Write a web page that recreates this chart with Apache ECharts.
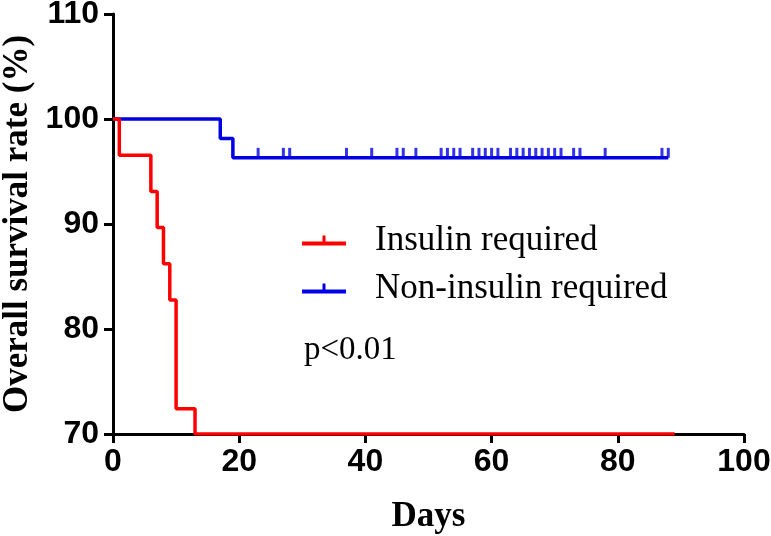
<!DOCTYPE html>
<html>
<head>
<meta charset="utf-8">
<script src="https://cdn.jsdelivr.net/npm/echarts@6/dist/echarts.min.js"></script>
<style>
  html, body { margin: 0; padding: 0; background: #fff; }
  #chart { width: 771px; height: 536px; }
</style>
</head>
<body>
<div id="chart"></div>
<script>
// Kaplan-Meier steps
const insulinDays = [0, 1, 6, 7, 8, 9, 10, 13, 89];
const insulinSurvival = [100, 96.55, 93.10, 89.66, 86.21, 82.76, 72.41, 70, 70];
const nonInsulinDays = [0, 17, 19, 88];
const nonInsulinSurvival = [100, 98.15, 96.30, 96.30];
// censored patients (non-insulin group), all at the 96.3 level
const censorDays = [23, 27, 28, 37, 41, 45, 46, 48, 52, 53, 54, 55, 57, 58, 59, 60, 61,
    63, 64, 65, 66, 67, 68, 69, 70, 71, 73, 74, 78, 87, 88];
const censorLevel = 96.30;

const RED = '#ff0000';
const BLUE = '#0000e6';
const legendIcon = 'path://M0,6h44v4H0z M20.5,0h3v6h-3z';

const chart = echarts.init(document.getElementById('chart'));

const pairs = (xs, ys) => xs.map((x, i) => [x, ys[i]]);

chart.setOption({
    animation: false,
    grid: { left: 113, right: 27, top: 14, bottom: 102, outerBoundsMode: 'none' },
    title: {
        text: 'p<0.01',
        left: 304, top: 334, padding: 0,
        textStyle: { fontFamily: 'Liberation Serif', fontWeight: 'normal', fontSize: 33, color: '#000' }
    },
    legend: {
        orient: 'vertical',
        left: 302, top: 223,
        padding: 0,
        itemGap: 13,
        itemWidth: 44, itemHeight: 10,
        textStyle: {
            fontFamily: 'Liberation Serif', fontSize: 35, color: '#000',
            padding: [0, 0, 0, 24]
        },
        data: [
            { name: 'Insulin required', icon: legendIcon, itemStyle: { color: RED } },
            { name: 'Non-insulin required', icon: legendIcon, itemStyle: { color: BLUE } }
        ]
    },
    xAxis: {
        type: 'value',
        min: 0, max: 100, interval: 20,
        name: 'Days',
        nameLocation: 'middle',
        nameGap: 65,
        nameMoveOverlap: false,
        nameTextStyle: { fontFamily: 'Liberation Serif', fontWeight: 'bold', fontSize: 35, color: '#000' },
        axisLine: { lineStyle: { color: '#000', width: 3 } },
        axisTick: { length: 9, lineStyle: { color: '#000', width: 3 } },
        axisLabel: { margin: 12, fontFamily: 'Liberation Sans', fontWeight: 'bold', fontSize: 32, color: '#000' },
        splitLine: { show: false }
    },
    yAxis: {
        type: 'value',
        min: 70, max: 110, interval: 10,
        name: 'Overall survival rate (%)',
        nameLocation: 'middle',
        nameGap: 78,
        nameMoveOverlap: false,
        nameTextStyle: { fontFamily: 'Liberation Serif', fontWeight: 'bold', fontSize: 35, color: '#000' },
        axisLine: { show: true, lineStyle: { color: '#000', width: 3 } },
        axisTick: { show: true, length: 9, lineStyle: { color: '#000', width: 3 } },
        axisLabel: { margin: 14, fontFamily: 'Liberation Sans', fontWeight: 'bold', fontSize: 32, color: '#000' },
        splitLine: { show: false }
    },
    series: [
        {
            name: 'Non-insulin required',
            type: 'line',
            step: 'end',
            showSymbol: false,
            lineStyle: { color: BLUE, width: 3.5 },
            itemStyle: { color: BLUE },
            data: pairs(nonInsulinDays, nonInsulinSurvival),
            z: 3
        },
        {
            name: 'censored',
            type: 'scatter',
            symbol: 'rect',
            symbolSize: [3, 10],
            symbolOffset: [0, -5],
            itemStyle: { color: BLUE },
            data: censorDays.map(d => [d, censorLevel]),
            z: 3
        },
        {
            name: 'Insulin required',
            type: 'line',
            step: 'end',
            showSymbol: false,
            lineStyle: { color: RED, width: 3.5 },
            itemStyle: { color: RED },
            data: pairs(insulinDays, insulinSurvival),
            z: 4
        }
    ]
});
</script>
</body>
</html>
